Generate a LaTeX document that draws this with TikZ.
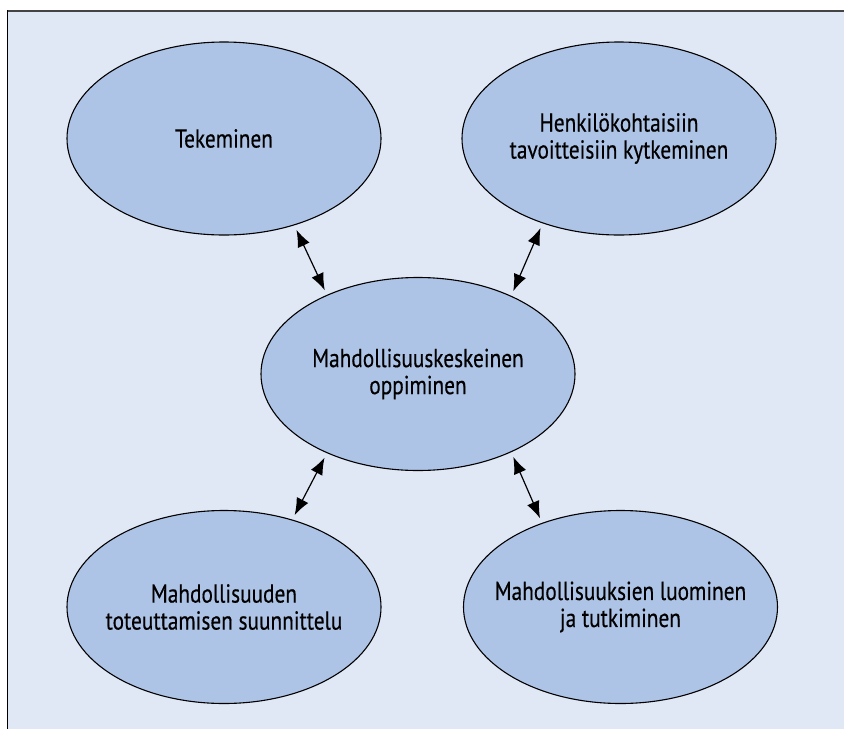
\documentclass[tikz,border=0pt]{standalone}
\usepackage{fontspec}
\setmainfont[FakeStretch=0.82,FakeBold=0.4]{PT Sans}
\usetikzlibrary{shapes.geometric,arrows.meta}
\definecolor{panelbg}{HTML}{E1E8F5}
\definecolor{bubble}{HTML}{AEC4E6}
\definecolor{frametop}{HTML}{444444}
\tikzset{
  bubblenode/.style={ellipse, draw=black, line width=1.1pt, fill=bubble,
    minimum width=314pt, minimum height=193pt, inner xsep=-40pt, inner ysep=0pt,
    align=center, font=\fontsize{26}{27}\selectfont},
  tipshape/.tip={Latex[length=17pt,width=13pt]},
  dblarrow/.style={line width=1.2pt, tipshape-tipshape,
    shorten <=5pt, shorten >=5pt}
}
\begin{document}
\begin{tikzpicture}[x=1pt,y=-1pt]
  \useasboundingbox (0,0) rectangle (844,729);
  % panel
  \fill[panelbg] (8,12) rectangle (844,729);
  \draw[frametop, line width=2pt] (7,11) -- (844,11);
  \draw[black, line width=1pt] (7.5,10) -- (7.5,729);
  % bubbles
  \node[bubblenode] (tek)  at (224,138.5) {Tekeminen};
  \node[bubblenode] (henk) at (619,138.5) {Henkilökohtaisiin\\tavoitteisiin kytkeminen};
  \node[bubblenode] (mid)  at (418,374) {Mahdollisuuskeskeinen\\oppiminen};
  \node[bubblenode] (plan) at (224,607) {Mahdollisuuden\\toteuttamisen suunnittelu};
  \node[bubblenode] (luo)  at (620.5,607) {Mahdollisuuksien luominen\\ja tutkiminen};
  % connectors
  \draw[dblarrow] (tek.-51) -- (mid.139);
  \draw[dblarrow] (henk.-132) -- (mid.40);
  \draw[dblarrow] (mid.-139) -- (plan.52);
  \draw[dblarrow] (mid.-40) -- (luo.133);
\end{tikzpicture}
\end{document}
